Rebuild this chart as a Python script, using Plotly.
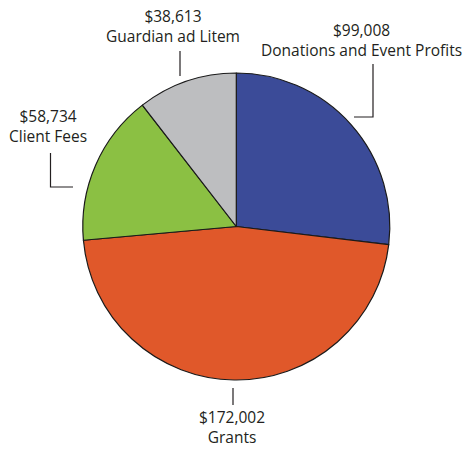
import plotly.graph_objects as go

categories = ["Donations and Event Profits", "Grants", "Client Fees", "Guardian ad Litem"]
values = [99008, 172002, 58734, 38613]
colors = ["#3B4B98", "#E0582A", "#8BC043", "#BDBEC0"]

W, H = 466, 451
cx, cy, r = 236.3, 226.5, 153.5

fig = go.Figure(go.Pie(
    labels=categories, values=values, sort=False, direction="clockwise", rotation=0,
    marker=dict(colors=colors, line=dict(color="#1a1a1a", width=1.2)),
    textinfo="none", hoverinfo="label+value", showlegend=False,
    domain=dict(x=[(cx - r) / W, (cx + r) / W], y=[1 - (cy + r) / H, 1 - (cy - r) / H]),
))

# label positions (pixel) and leader lines
label_pos = {
    "Donations and Event Profits": (361, 40),
    "Grants": (232, 427),
    "Client Fees": (48, 126),
    "Guardian ad Litem": (173, 26),
}
leaders = {
    "Donations and Event Profits": [(354, 117), (373, 117), (373, 64)],
    "Grants": [(233, 388), (233, 405)],
    "Client Fees": [(50.5, 153), (50.5, 187), (73, 187)],
    "Guardian ad Litem": [(180, 51), (180, 76)],
}

def px(x):
    return x / W

def py(y):
    return 1 - y / H

for cat, val in zip(categories, values):
    x, y = label_pos[cat]
    fig.add_annotation(x=px(x), y=py(y), xref="paper", yref="paper",
                       text=f"${val:,}<br>{cat}", showarrow=False,
                       font=dict(family="Open Sans", size=15.5, color="#231f20"),
                       align="center", xanchor="center", yanchor="middle")
    pts = leaders[cat]
    path = "M " + " L ".join(f"{px(a)},{py(b)}" for a, b in pts)
    fig.add_shape(type="path", path=path, xref="paper", yref="paper",
                  line=dict(color="#231f20", width=1.2))

fig.update_layout(width=W, height=H, margin=dict(l=0, r=0, t=0, b=0),
                  paper_bgcolor="white", plot_bgcolor="white")
fig.write_html("out.html")
